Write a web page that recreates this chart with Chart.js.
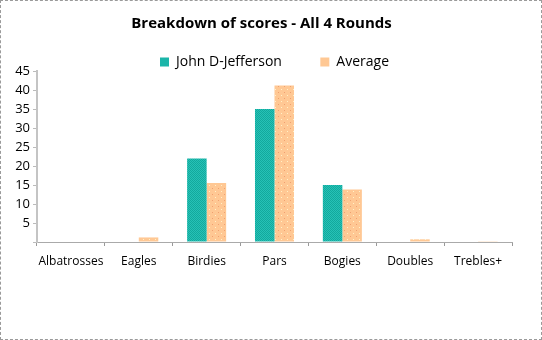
<!DOCTYPE html>
<html><head><meta charset="utf-8">
<script src="https://cdn.jsdelivr.net/npm/chart.js@4.4.1/dist/chart.umd.min.js"></script>
<style>
html,body{margin:0;padding:0;background:#fff;}
#wrap{width:540px;height:338px;border:1px dashed #9a9a9a;position:relative;}
canvas{display:block;}
</style></head>
<body>
<div id="wrap"><canvas id="c" width="540" height="338"></canvas></div>
<script>
const categories = ['Albatrosses','Eagles','Birdies','Pars','Bogies','Doubles','Trebles+'];
const johnValues = [0, 0, 22, 35, 15, 0, 0];
const averageValues = [0, 1.2, 15.5, 41.2, 13.8, 0.7, 0.2];
const seriesNames = ['John D-Jefferson','Average'];
const chartTitle = 'Breakdown of scores - All 4 Rounds';

function makePattern(bg, dots, size){
  const p=document.createElement('canvas'); p.width=size; p.height=size;
  const g=p.getContext('2d'); g.fillStyle=bg; g.fillRect(0,0,size,size);
  dots.forEach(d=>{g.fillStyle=d[2]; g.fillRect(d[0],d[1],1,1);});
  return g.createPattern(p,'repeat');
}
const ctx=document.getElementById('c').getContext('2d');
const tealPat=makePattern('#12a99d',[[1,0,'#26c2b6'],[0,1,'#26c2b6']],2);
const peachPat=makePattern('#ffc894',[[1,1,'#f0a070'],[4,4,'#fff2c8']],6);

const font="'Open Sans', Lato, sans-serif";
const gapSpaces='\u00a0'.repeat(10);
new Chart(ctx,{
  type:'bar',
  data:{labels:categories,datasets:[
    {label:seriesNames[0],data:johnValues,backgroundColor:tealPat,borderWidth:0},
    {label:seriesNames[1],data:averageValues,backgroundColor:peachPat,borderWidth:0}
  ]},
  options:{
    responsive:false,animation:false,
    layout:{padding:{left:10,right:29,top:0,bottom:67}},
    datasets:{bar:{categoryPercentage:0.575,barPercentage:1}},
    plugins:{
      title:{display:true,text:chartTitle,color:'#000',font:{family:font,size:15,weight:'bold'},padding:{top:14,bottom:20}},
      legend:{fullSize:false,maxHeight:18,labels:{boxWidth:9,boxHeight:9,color:'#000',font:{family:font,size:14},padding:2,
        generateLabels:(chart)=>chart.data.datasets.map((d,i)=>({text:i===0?d.label+gapSpaces:d.label,fillStyle:i===0?'#1bb5a9':'#ffc894',strokeStyle:'transparent',lineWidth:0,datasetIndex:i}))}},
      tooltip:{enabled:false}
    },
    scales:{
      x:{
        grid:{display:true,drawOnChartArea:false,offset:true,tickLength:4,color:'#999'},
        border:{display:true,color:'#aaa',dash:[1,2]},
        ticks:{color:'#000',font:{family:font,size:12},padding:8,maxRotation:0,autoSkip:false},
        afterFit:(s)=>{s.height=30;}
      },
      y:{
        min:0,max:45,
        grid:{display:true,drawOnChartArea:false,tickLength:4,color:'#bbb'},
        border:{display:true,color:'#c4c4c4',width:2},
        ticks:{stepSize:5,color:'#000',font:{family:font,size:13},padding:3,autoSkip:false,
          callback:(v)=>v===0?'':v},
        afterFit:(s)=>{s.width=26;}
      }
    }
  }
});
</script>
</body></html>
